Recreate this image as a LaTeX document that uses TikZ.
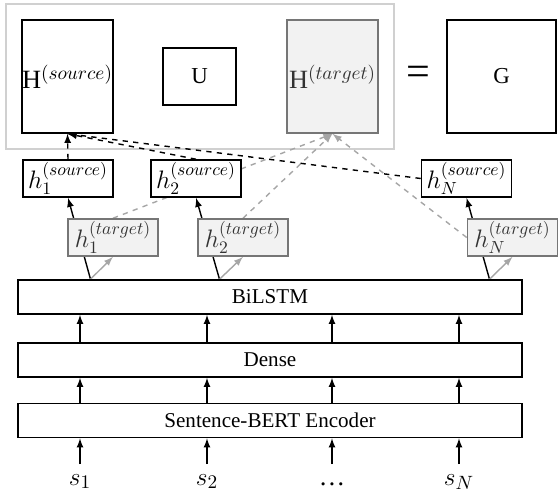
\documentclass[tikz,border=0pt]{standalone}
\usepackage{fontspec}
\setmainfont{Liberation Serif}
\usetikzlibrary{positioning,calc,fit,backgrounds}
\definecolor{tgtfill}{HTML}{F2F2F2}
\definecolor{tgtdraw}{HTML}{767676}
\definecolor{tgtline}{HTML}{A6A6A6}
\definecolor{framegray}{HTML}{D0D0D0}
\tikzset{
 layerbox/.style={draw, line width=0.9pt, fill=white, minimum width=10.08cm, minimum height=0.68cm, inner sep=0pt, font=\fontsize{12}{14}\selectfont},
 srcbox/.style={draw, line width=0.9pt, fill=white, minimum width=1.8cm, minimum height=0.74cm, inner sep=0pt, font=\fontsize{14}{16}\selectfont},
 tgtbox/.style={srcbox, draw=tgtdraw, fill=tgtfill, text=black!80},
 matbox/.style={draw, line width=0.9pt, fill=white, minimum width=1.82cm, minimum height=2.26cm, inner sep=0pt, font=\fontsize{15}{17}\selectfont},
 conn/.style={-latex, line width=0.8pt},
}
\begin{document}
\begin{tikzpicture}[x=0.02cm, y=-0.02cm]
\useasboundingbox (0,0) rectangle (558,495);
% edit here for the matrices
\node[matbox] (Hsrc) at (67.5,76.5) {H$^{(source)}$};
\node[matbox, minimum width=1.46cm, minimum height=1.14cm, font=\fontsize{13}{15}\selectfont] (U) at (199.5,76.5) {U};
\node[matbox, draw=tgtdraw, fill=tgtfill, text=black!80] (Htgt) at (332.5,76.5) {H$^{(target)}$};
\node[font=\fontsize{24}{26}\selectfont] (eq) at (418,76) {=};
\node[matbox, minimum width=2.18cm, font=\fontsize{13}{15}\selectfont] (G) at (501.5,76.5) {G};
% edit here for the hidden states
\foreach \i/\xs/\xt in {1/68/113, 2/196/243, N/466.5/512.5}
{
\node[srcbox] (hs\i) at (\xs,178.5) {$h_{\i}^{(source)}$};
\node[tgtbox] (ht\i) at (\xt,237.5) {$h_{\i}^{(target)}$};
}
% edit here for the layers
\node[layerbox] (bilstm) at (270,297) {BiLSTM};
\node[layerbox] (dense) at (270,360) {Dense};
\node[layerbox] (sbert) at (270,420.5) {Sentence-BERT Encoder};
\foreach \x/\s [count=\i] in {80/$s_1$, 207/$s_2$, 332/\ldots, 459/$s_N$} % edit here for the inputs
{
\node[anchor=base, font=\fontsize{15}{18}\selectfont] (s\i) at (\x,485) {\s};
\coordinate (b\i) at (\x,464);
\draw[conn] (b\i) -- (sbert.south -| b\i);
\draw[conn] (sbert.north -| b\i) -- (dense.south -| b\i);
\draw[conn] (dense.north -| b\i) -- (bilstm.south -| b\i);
}
\begin{scope}[on background layer]
\node[draw=framegray, line width=1.2pt, inner sep=0.3cm, fit=(Hsrc)(Htgt)] (frame) {};
\foreach \i in {1,2,N} % edit here for the BiLSTM outputs
{
\coordinate (m\i) at ($(hs\i.south)!0.5!(ht\i.south)$);
\coordinate (o\i) at (m\i |- bilstm.north);
\draw[conn] (o\i) -- (hs\i.south);
\draw[conn, tgtline] (o\i) -- (ht\i.south);
}
\draw[conn, dashed] (hs1.north) -- (Hsrc.south);
\draw[conn, dashed] (hs2.north) -- (Hsrc.south);
\draw[conn, dashed] (hsN.west) -- (Hsrc.south);
\draw[conn, dashed, tgtline] (ht1.north) -- (Htgt.south);
\draw[conn, dashed, tgtline] (ht2.north) -- (Htgt.south);
\draw[conn, dashed, tgtline] (htN.west) -- (Htgt.south);
\end{scope}
\end{tikzpicture}
\end{document}
